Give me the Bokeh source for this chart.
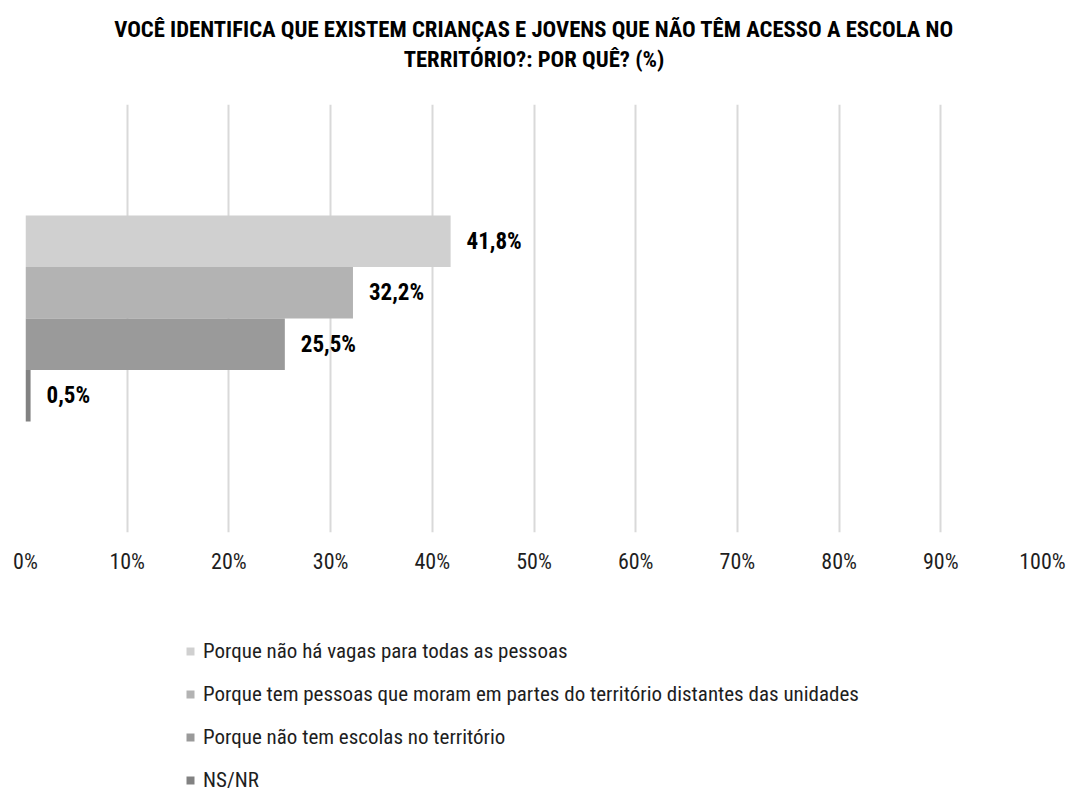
from bokeh.plotting import figure
from bokeh.layouts import column
from bokeh.core.properties import value
from bokeh.models import (FactorRange, ColumnDataSource, Legend, LegendItem, Title,
                          FixedTicker, CustomJSTickFormatter, LabelSet)
from bokeh.embed import file_html
from bokeh.resources import INLINE

categories = [
    "Porque não há vagas para todas as pessoas",
    "Porque tem pessoas que moram em partes do território distantes das unidades",
    "Porque não tem escolas no território",
    "NS/NR",
]
values = [41.8, 32.2, 25.5, 0.5]
colors = ["#d0d0d0", "#b3b3b3", "#9a9a9a", "#828282"]
labels = ["41,8%", "32,2%", "25,5%", "0,5%"]
ticks = [0, 10, 20, 30, 40, 50, 60, 70, 80, 90, 100]
title_lines = ["VOCÊ IDENTIFICA QUE EXISTEM CRIANÇAS E JOVENS QUE NÃO TÊM ACESSO A ESCOLA NO",
               "TERRITÓRIO?: POR QUÊ? (%)"]

FONT = "Roboto Condensed"

order = list(reversed(categories))
yr = FactorRange(factors=order, range_padding=2.158, range_padding_units="absolute")

p = figure(width=1071, height=600, y_range=yr, x_range=(0, 100),
           output_backend="svg", toolbar_location=None,
           min_border_left=25, min_border_right=29, min_border_top=104, min_border_bottom=68)
p.title = None
# spacer between frame and title lines
p.add_layout(Title(text=" ", text_font_size="1px", standoff=28), "above")
for line, so in zip(reversed(title_lines), [2, 0]):
    p.add_layout(Title(text=line, align="center", text_font=FONT, text_font_size="22.7px",
                       text_font_style="bold", text_color="#000000", standoff=so), "above")

src = ColumnDataSource(dict(cat=categories, val=values, color=colors, lab=labels))
p.hbar(y="cat", right="val", left=0, height=1.0, fill_color="color", line_color=None, source=src)

ls = LabelSet(x="val", y="cat", text="lab", source=src, x_offset=16, text_align="left",
              text_baseline="middle", text_font=value(FONT), text_font_size=value("23px"),
              text_font_style="bold", text_color="#000000")
p.add_layout(ls)

p.yaxis.visible = False
p.ygrid.grid_line_color = None
p.xgrid.grid_line_color = "#d9d9d9"
p.xgrid.grid_line_width = 2
p.xaxis.ticker = FixedTicker(ticks=ticks)
p.xaxis.formatter = CustomJSTickFormatter(code="return tick + '%';")
p.xaxis.axis_line_color = None
p.xaxis.major_tick_line_color = None
p.xaxis.minor_tick_line_color = None
p.xaxis.major_label_text_font = FONT
p.xaxis.major_label_text_font_size = "22px"
p.xaxis.major_label_text_color = "#1e1e1e"
p.xaxis.major_label_standoff = 10
p.outline_line_color = None

# legend panel: swatches come from the same data; its bars have no area and lie outside the range
q = figure(width=1071, height=189, x_range=(-300, -200), y_range=FactorRange(factors=order),
           output_backend="svg", toolbar_location=None,
           min_border_left=0, min_border_right=0, min_border_top=0, min_border_bottom=0)
q.axis.visible = False
q.grid.visible = False
q.outline_line_color = None
rq = q.hbar(y="cat", right="val", left=0, height=0.0, fill_color="color", line_color=None,
            source=src)
items = [LegendItem(label=c, renderers=[rq], index=i) for i, c in enumerate(categories)]
leg = Legend(items=items, location=(160, -3), orientation="vertical",
             label_text_font=FONT, label_text_font_size="21px", label_text_color="#1e1e1e",
             glyph_width=10, glyph_height=10, label_height=25, spacing=18,
             label_standoff=8, padding=0, margin=0, border_line_color=None,
             background_fill_alpha=0)
q.add_layout(leg, "center")

layout = column(p, q, spacing=0)
open("out.html", "w").write(file_html(layout, INLINE))
